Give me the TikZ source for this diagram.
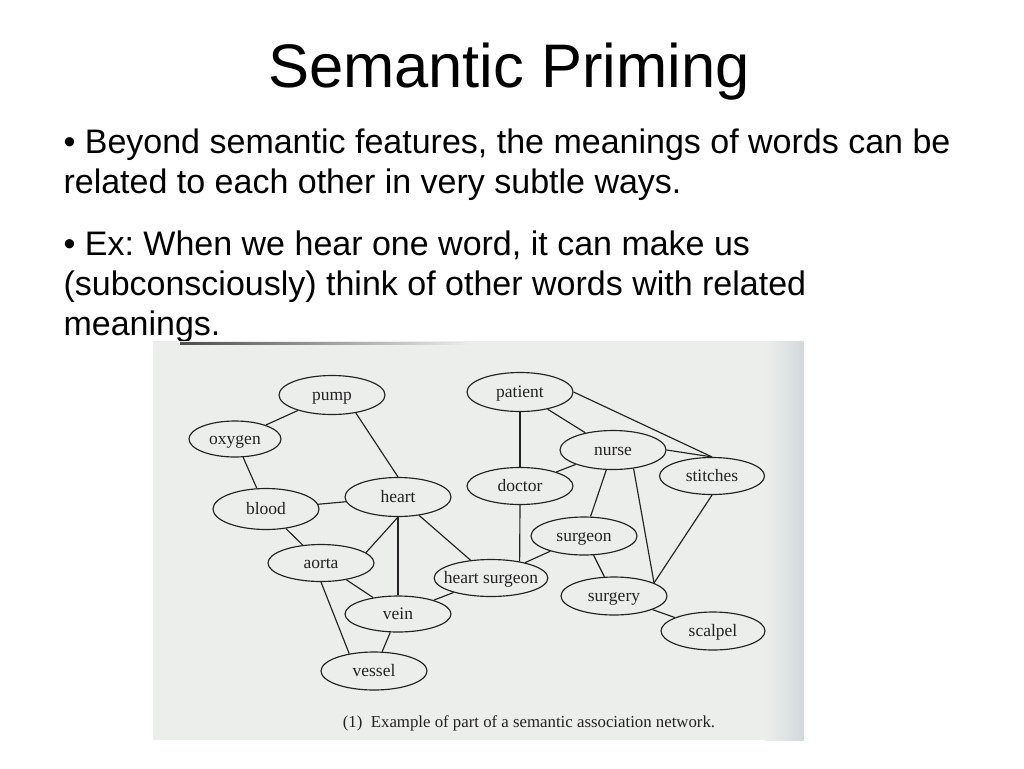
\documentclass[tikz,border=0pt]{standalone}
\usepackage{fontspec}
\setmainfont{Liberation Serif}
\newfontfamily\slidefont{Liberation Sans}
\usepackage{tikz}
\usetikzlibrary{shapes.geometric}
\definecolor{scanpaper}{HTML}{ECEEEB}
\definecolor{scanedge}{HTML}{D2D9DC}
\definecolor{ink}{HTML}{222222}
\frenchspacing

\begin{document}
\begin{tikzpicture}[x=1pt,y=1pt,
        word/.style={draw=ink, ellipse, line width=1.15pt, minimum width=106pt, minimum height=39pt, inner sep=0pt, text height=10pt, text depth=0pt, text=ink, font=\fontsize{17.5}{18}\selectfont},
        link/.style={draw=ink, line width=1.15pt},
        slide/.style={anchor=base west, font=\slidefont\fontsize{34}{40}\selectfont}]
        \useasboundingbox (0,0) rectangle (1024,-768);
        \fill[white] (0,0) rectangle (1024,-768);
        \node[anchor=base, font=\slidefont\fontsize{61.5}{70}\selectfont] (title) at (509,-87) {Semantic Priming};
        \node[slide] (lineA) at (60,-153) {• Beyond semantic features, the meanings of words can be};
        \node[slide] (lineB) at (60,-193) {related to each other in very subtle ways.};
        \node[slide] (lineC) at (60,-255) {• Ex: When we hear one word, it can make us};
        \node[slide] (lineD) at (60,-295) {(subconsciously) think of other words with related};
        \node[slide] (lineE) at (60,-335) {meanings.};
        \fill[scanpaper] (153,-341) rectangle (803,-740);
        \shade[left color=scanpaper, right color=scanedge] (765,-341) rectangle (803.5,-740.5);
        \shade[left color=black!70, right color=scanpaper] (180,-342.6) rectangle (470,-344.2);
        \node[word] (pump) at (332,-395) {pump};
        \node[word, minimum width=92pt, minimum height=36pt] (oxygen) at (235,-439) {oxygen};
        \node[word, minimum height=41pt] (blood) at (266,-509) {blood};
        \node[word] (heart) at (398,-497) {heart};
        \node[word] (patient) at (520,-392) {patient};
        \node[word] (nurse) at (613,-450) {nurse};
        \node[word, minimum width=105pt, minimum height=37pt] (stitches) at (712,-476) {stitches};
        \node[word, minimum height=37pt] (doctor) at (520,-486) {doctor};
        \node[word, minimum height=38pt] (surgeon) at (584,-536) {surgeon};
        \node[word, minimum width=108pt, minimum height=37pt, inner xsep=-7pt] (hsurgeon) at (491,-578) {heart surgeon};
        \node[word, minimum height=37pt] (aorta) at (321,-563) {aorta};
        \node[word, minimum height=36pt] (vein) at (398,-614) {vein};
        \node[word, minimum height=38pt] (vessel) at (374,-671) {vessel};
        \node[word, minimum height=38pt] (surgery) at (614,-596) {surgery};
        \node[word, minimum width=104pt, minimum height=38pt] (scalpel) at (713,-631) {scalpel};
        \draw[link] (pump) -- (oxygen);
        \draw[link] (pump.-37) -- (heart.north);
        \draw[link] (oxygen) -- (blood);
        \draw[link] (blood) -- (heart);
        \draw[link] (blood) -- (aorta);
        \draw[link] (heart.south) -- (aorta.13);
        \draw[link] (heart) -- (vein);
        \draw[link] (heart) -- (hsurgeon);
        \draw[link] (aorta) -- (vein);
        \draw[link] (aorta.south) -- (vessel.145);
        \draw[link] (vein) -- (vessel);
        \draw[link] (vein) -- (hsurgeon);
        \draw[link] (patient) -- (doctor);
        \draw[link] (patient) -- (nurse);
        \draw[link] (patient.east) -- (stitches.north);
        \draw[link] (nurse.east) -- (stitches.north);
        \draw[link] (nurse) -- (doctor);
        \draw[link] (nurse) -- (surgeon);
        \draw[link] (nurse.-42) -- (surgery.18);
        \draw[link] (stitches.south) -- (surgery.18);
        \draw[link] (doctor.south) -- (hsurgeon.30);
        \draw[link] (surgeon) -- (hsurgeon);
        \draw[link] (surgeon) -- (surgery);
        \draw[link] (surgery) -- (scalpel);
        \node[anchor=base, text=ink, font=\fontsize{16.8}{20}\selectfont] (caption) at (529,-727) {(1)\ \ Example of part of a semantic association network.};
    \end{tikzpicture}
\end{document}
